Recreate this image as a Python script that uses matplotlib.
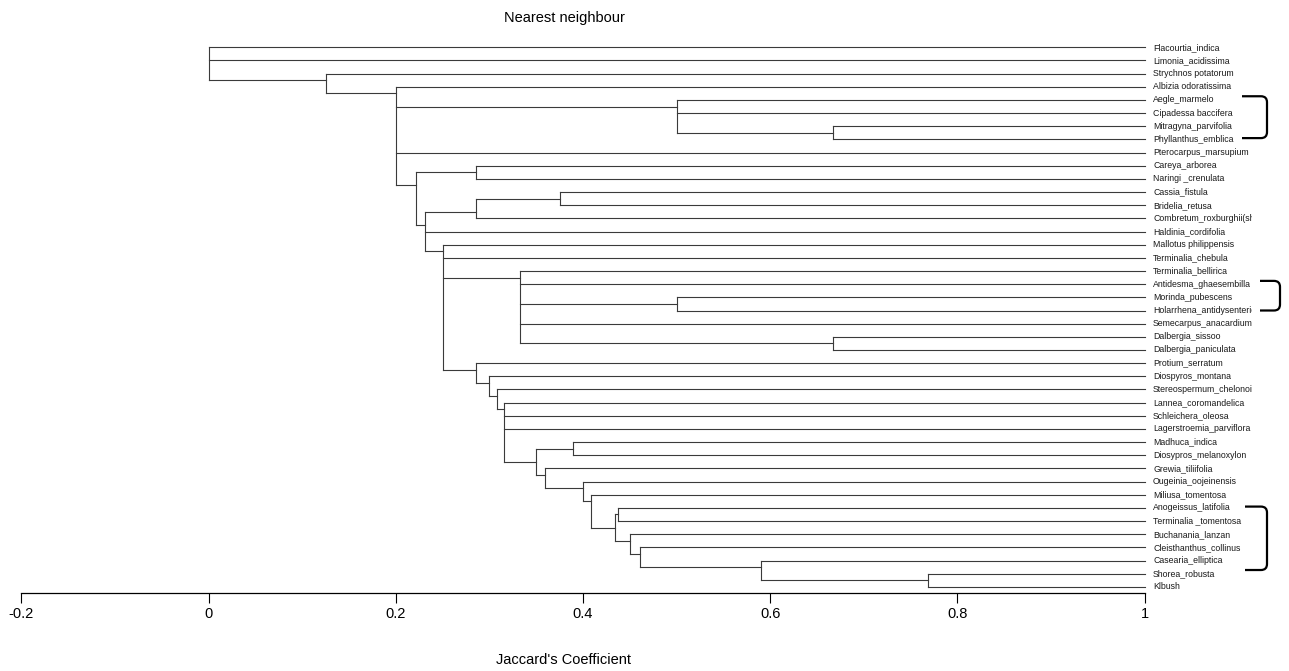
import matplotlib
matplotlib.use("Agg")
import matplotlib.pyplot as plt
from matplotlib import font_manager
from matplotlib.collections import LineCollection
from matplotlib.path import Path
from matplotlib.patches import PathPatch
from matplotlib.transforms import Bbox, TransformedBbox

# Species in dendrogram order (top to bottom)
leaves = [
    "Flacourtia_indica", "Limonia_acidissima", "Strychnos potatorum",
    "Albizia odoratissima", "Aegle_marmelo", "Cipadessa baccifera",
    "Mitragyna_parvifolia", "Phyllanthus_emblica", "Pterocarpus_marsupium",
    "Careya_arborea", "Naringi _crenulata", "Cassia_fistula",
    "Bridelia_retusa", "Combretum_roxburghii(sh", "Haldinia_cordifolia",
    "Mallotus philippensis", "Terminalia_chebula", "Terminalia_bellirica",
    "Antidesma_ghaesembilla", "Morinda_pubescens", "Holarrhena_antidysenterica",
    "Semecarpus_anacardium", "Dalbergia_sissoo", "Dalbergia_paniculata",
    "Protium_serratum", "Diospyros_montana", "Stereospermum_chelonoides",
    "Lannea_coromandelica", "Schleichera_oleosa", "Lagerstroemia_parviflora",
    "Madhuca_indica", "Diosypros_melanoxylon", "Grewia_tiliifolia",
    "Ougeinia_oojeinensis", "Miliusa_tomentosa", "Anogeissus_latifolia",
    "Terminalia _tomentosa", "Buchanania_lanzan", "Cleisthanthus_collinus",
    "Casearia_elliptica", "Shorea_robusta", "Klbush",
]

# Nearest-neighbour clusters: Jaccard similarity at which members join
node_height = {
    "root": 0.0, "c_strych": 0.125, "c_albiz": 0.2, "c_aegle": 0.5,
    "c_mitra": 0.6667, "c_care_grp": 0.2222, "c_careya": 0.2857,
    "c_cass_grp": 0.2308, "c_combr": 0.2857, "c_cassia": 0.375,
    "c_mallot": 0.25, "c_bellir": 0.3333, "c_morinda": 0.5,
    "c_dalb": 0.6667, "c_protium": 0.2857, "c_diosp": 0.3,
    "c_stereo": 0.3077, "c_lannea": 0.3158, "c_madh_grp": 0.35,
    "c_madhuca": 0.3889, "c_grewia": 0.36, "c_ougein": 0.4,
    "c_miliusa": 0.4091, "c_anog_grp": 0.4348, "c_anog": 0.4375,
    "c_buchan": 0.45, "c_cleis": 0.4615, "c_casear": 0.5898,
    "c_shorea": 0.7692,
}

node_children = {
    "root": ["Flacourtia_indica", "Limonia_acidissima", "c_strych"],
    "c_strych": ["Strychnos potatorum", "c_albiz"],
    "c_albiz": ["Albizia odoratissima", "c_aegle", "Pterocarpus_marsupium", "c_care_grp"],
    "c_aegle": ["Aegle_marmelo", "Cipadessa baccifera", "c_mitra"],
    "c_mitra": ["Mitragyna_parvifolia", "Phyllanthus_emblica"],
    "c_care_grp": ["c_careya", "c_cass_grp"],
    "c_careya": ["Careya_arborea", "Naringi _crenulata"],
    "c_cass_grp": ["c_combr", "Haldinia_cordifolia", "c_mallot"],
    "c_combr": ["c_cassia", "Combretum_roxburghii(sh"],
    "c_cassia": ["Cassia_fistula", "Bridelia_retusa"],
    "c_mallot": ["Mallotus philippensis", "Terminalia_chebula", "c_bellir", "c_protium"],
    "c_bellir": ["Terminalia_bellirica", "Antidesma_ghaesembilla", "c_morinda",
                 "Semecarpus_anacardium", "c_dalb"],
    "c_morinda": ["Morinda_pubescens", "Holarrhena_antidysenterica"],
    "c_dalb": ["Dalbergia_sissoo", "Dalbergia_paniculata"],
    "c_protium": ["Protium_serratum", "c_diosp"],
    "c_diosp": ["Diospyros_montana", "c_stereo"],
    "c_stereo": ["Stereospermum_chelonoides", "c_lannea"],
    "c_lannea": ["Lannea_coromandelica", "Schleichera_oleosa",
                 "Lagerstroemia_parviflora", "c_madh_grp"],
    "c_madh_grp": ["c_madhuca", "c_grewia"],
    "c_madhuca": ["Madhuca_indica", "Diosypros_melanoxylon"],
    "c_grewia": ["Grewia_tiliifolia", "c_ougein"],
    "c_ougein": ["Ougeinia_oojeinensis", "c_miliusa"],
    "c_miliusa": ["Miliusa_tomentosa", "c_anog_grp"],
    "c_anog_grp": ["c_anog", "c_buchan"],
    "c_anog": ["Anogeissus_latifolia", "Terminalia _tomentosa"],
    "c_buchan": ["Buchanania_lanzan", "c_cleis"],
    "c_cleis": ["Cleisthanthus_collinus", "c_casear"],
    "c_casear": ["Casearia_elliptica", "c_shorea"],
    "c_shorea": ["Shorea_robusta", "Klbush"],
}

# Groups marked with a bracket beside the labels: (first leaf, last leaf)
bracket_groups = [
    ("Aegle_marmelo", "Phyllanthus_emblica"),
    ("Antidesma_ghaesembilla", "Holarrhena_antidysenterica"),
    ("Anogeissus_latifolia", "Shorea_robusta"),
]

axis_ticks = [-0.2, 0, 0.2, 0.4, 0.6, 0.8, 1]
axis_tick_labels = ["-0.2", "0", "0.2", "0.4", "0.6", "0.8", "1"]

# ---------------------------------------------------------------- layout
W, H = 1289, 671
fig = plt.figure(figsize=(W / 100, H / 100), dpi=100)
px_per_unit = 936.0
x_zero = 208.5
axis_y = 593.3
leaf_top, leaf_step = 47.3, 13.16

ax = fig.add_axes([0, (H - axis_y) / H, 1, axis_y / H])
ax.set_xlim(-x_zero / px_per_unit, (W - x_zero) / px_per_unit)
ax.set_ylim((axis_y - leaf_top) / leaf_step, -leaf_top / leaf_step)

leaf_pos = {name: i for i, name in enumerate(leaves)}
segments = []


def layout(node):
    """Return (first leaf, last leaf, connector y, height) and collect segments."""
    if node not in node_children:
        i = leaf_pos[node]
        return i, i, float(i), 1.0
    h = node_height[node]
    info = [layout(c) for c in node_children[node]]
    segments.append([(h, info[0][2]), (h, info[-1][2])])
    for first, last, cy, ch in info:
        segments.append([(h, cy), (ch, cy)])
    conn = (info[0][1] + info[1][0]) / 2.0
    return info[0][0], info[-1][1], conn, h


layout("root")
ax.add_collection(LineCollection(segments, colors="#3a3a3a", linewidths=0.8,
                                 capstyle="projecting"))


def has_font(name):
    try:
        font_manager.findfont(font_manager.FontProperties(family=name),
                              fallback_to_default=False)
        return True
    except ValueError:
        return False


if has_font("Liberation Sans Narrow"):
    label_family, label_size = "Liberation Sans Narrow", 7.4
else:
    label_family, label_size = "Liberation Sans", 6.3

clip = TransformedBbox(Bbox([[1.0, -5], [(1252 - x_zero) / px_per_unit, 60]]),
                       ax.transData)
for name, i in leaf_pos.items():
    t = ax.text(1.0091, i, name, ha="left", va="center", fontsize=label_size,
                family=label_family, color="#1a1a1a")
    t.set_clip_box(clip)
    t.set_clip_on(True)


def bracket(y0, y1, x0, x1, rx, ry):
    verts = [(x0, y0), (x1 - rx, y0), (x1, y0), (x1, y0 + ry),
             (x1, y1 - ry), (x1, y1), (x1 - rx, y1), (x0, y1)]
    codes = [Path.MOVETO, Path.LINETO, Path.CURVE3, Path.CURVE3,
             Path.LINETO, Path.CURVE3, Path.CURVE3, Path.LINETO]
    ax.add_patch(PathPatch(Path(verts, codes), fill=False, lw=1.6,
                           edgecolor="black", capstyle="butt"))


bracket_x = [(1242, 1267), (1260, 1280), (1245, 1267)]
bracket_pad = [(-0.28, -0.1), (-0.25, 0.0), (-0.1, -0.28)]
rx, ry = 6 / px_per_unit, 6 / leaf_step
for (a, b), (xa, xb), (pa, pb) in zip(bracket_groups, bracket_x, bracket_pad):
    bracket(leaf_pos[a] + pa, leaf_pos[b] + pb,
            (xa - x_zero) / px_per_unit, (xb - x_zero) / px_per_unit, rx, ry)

# x axis
for side in ("left", "right", "top"):
    ax.spines[side].set_visible(False)
ax.spines["bottom"].set_bounds(-0.2, 1)
ax.spines["bottom"].set_linewidth(0.9)
ax.set_yticks([])
ax.set_xticks(axis_ticks)
ax.set_xticklabels(axis_tick_labels, family="Liberation Sans", fontsize=10.5)
ax.tick_params(axis="x", direction="out", length=7.2, width=0.8, pad=2.5,
               colors="black")
ax.patch.set_visible(False)

fig.text(564 / W, 1 - 18 / H, "Nearest neighbour", ha="center", va="center",
         family="Liberation Sans", fontsize=10.5)
fig.text(563 / W, 1 - 660 / H, "Jaccard's Coefficient", ha="center", va="center",
         family="Liberation Sans", fontsize=10.5)

fig.savefig("out.png", dpi=100, facecolor="white")
